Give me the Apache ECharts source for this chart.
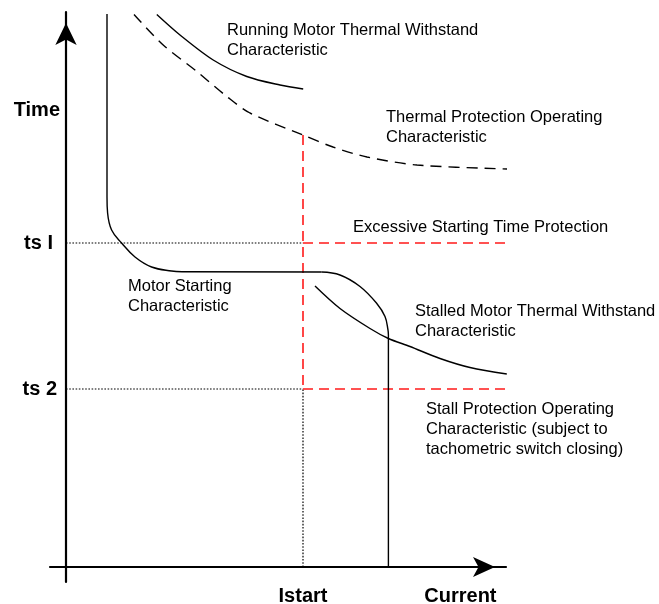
<!DOCTYPE html>
<html>
<head>
<meta charset="utf-8">
<script src="https://cdn.jsdelivr.net/npm/echarts@6/dist/echarts.min.js"></script>
<style>
html,body{margin:0;padding:0;background:#fff;}
#chart{width:659px;height:604px;}
</style>
</head>
<body>
<div id="chart"></div>
<script>
// Data (x = current, y = time; arbitrary units)
var istart = 59.25;
var ts1 = 64.8;
var ts2 = 35.6;
var protEnd = 110.25;
var thermalStartRed = 86.4;

var yTickValues = [91.4, ts1, ts2];
var yTickLabels = ['Time', 'ts I', 'ts 2'];
var xTickValues = [istart, 98.6];
var xTickLabels = ['Istart', 'Current'];

// Motor starting characteristic, in pieces: vertical, knee, flat, knee, vertical
var motorStartTop = [[10.25, 110.6], [10.25, 74]];
var motorStartKnee1 = [[10.25, 74], [10.4, 70.8], [11.4, 67.4], [13.9, 64.8],
  [17.25, 62], [21.4, 60], [26.4, 59.2], [29, 59.06]];
var motorStartFlat = [[29, 59.06], [63.9, 59]];
var motorStartKnee2 = [[63.9, 59], [68.5, 58.4], [73.5, 56.1], [77.7, 52.7],
  [79.75, 50.1], [80.5, 47.4], [80.6, 46.4]];
var motorStartBottom = [[80.6, 46.4], [80.6, 0]];

var runningThermal = [
  [22.7, 110.5], [28.5, 106.4], [36.8, 101.4], [45.2, 98.1], [53.5, 96.4], [59.3, 95.6]
];
var thermalProtection = [
  [17, 110.5], [24.3, 104.4], [32.7, 99.1], [40.2, 94.1], [46, 90.8],
  [59.25, 86.4], [66.75, 84], [75.25, 82], [87.75, 80.4], [110.25, 79.6]
];
var stalledThermal = [
  [62.25, 56.2], [68.5, 51.7], [76, 47.7], [80.6, 45.7], [86, 44.1],
  [93.5, 41.7], [101, 39.9], [110.2, 38.6]
];

var annotations = [
  {lines: ['Running Motor Thermal Withstand', 'Characteristic'], x: 227, y: 32},
  {lines: ['Thermal Protection Operating', 'Characteristic'], x: 386, y: 119},
  {lines: ['Excessive Starting Time Protection'], x: 353, y: 229},
  {lines: ['Motor Starting', 'Characteristic'], x: 128, y: 288},
  {lines: ['Stalled Motor Thermal Withstand', 'Characteristic'], x: 415, y: 313},
  {lines: ['Stall Protection Operating', 'Characteristic (subject to', 'tachometric switch closing)'], x: 426, y: 411}
];

var FONT = "'Liberation Sans', Arial, Helvetica, sans-serif";
var chart = echarts.init(document.getElementById('chart'), null, {renderer: 'canvas'});

var graphics = [];
annotations.forEach(function (a) {
  a.lines.forEach(function (t, i) {
    graphics.push({
      type: 'text', left: a.x, top: a.y + i * 20 - 10,
      style: {text: t, font: '16.5px ' + FONT, fill: '#000', textVerticalAlign: 'top'}
    });
  });
});

function lineSeries(data, style, smooth) {
  return {
    type: 'line', data: data, symbol: 'none', smooth: smooth || false,
    clip: false, silent: true, animation: false,
    lineStyle: style
  };
}

var red = {color: '#ff1a1a', width: 1.6, type: [10, 6]};
var dotted = {color: '#000', width: 1.2, type: [1.6, 1.6]};
var solid = {color: '#000', width: 1.4};
var labelStyle = {fontFamily: FONT, fontWeight: 'bold', fontSize: 20, color: '#000'};

var option = {
  animation: false,
  backgroundColor: '#fff',
  grid: {left: 50, top: 12, width: 456, height: 570, containLabel: false, outerBoundsMode: 'none'},
  xAxis: {
    type: 'value', min: -4, max: 110,
    splitLine: {show: false},
    axisLine: {onZero: true, lineStyle: {color: '#000', width: 2.2}, symbol: ['none', 'arrow'], symbolSize: [15, 22], symbolOffset: [0, -11]},
    axisTick: {show: false},
    axisLabel: Object.assign({
      customValues: xTickValues, margin: 4, hideOverlap: false,
      formatter: function (v) { var i = xTickValues.indexOf(v); return i >= 0 ? xTickLabels[i] : ''; }
    }, labelStyle)
  },
  yAxis: {
    type: 'value', min: -3, max: 111,
    splitLine: {show: false},
    axisLine: {onZero: true, lineStyle: {color: '#000', width: 2.2}, symbol: ['none', 'arrow'], symbolSize: [16, 22], symbolOffset: [0, -11]},
    axisTick: {show: false},
    axisLabel: Object.assign({
      customValues: yTickValues, margin: -10, hideOverlap: false,
      formatter: function (v) {
        var i = yTickValues.indexOf(v);
        return i >= 0 ? '{l' + i + '|' + yTickLabels[i] + '}' : '';
      },
      rich: {
        l0: Object.assign({}, labelStyle),
        l1: Object.assign({padding: [0, 7, 0, 0]}, labelStyle),
        l2: Object.assign({padding: [0, 3, 0, 0]}, labelStyle)
      }
    }, labelStyle)
  },
  graphic: graphics,
  series: [
    lineSeries([[0, ts1], [istart, ts1]], dotted),
    lineSeries([[0, ts2], [istart, ts2]], dotted),
    lineSeries([[istart, 0], [istart, ts2]], dotted),
    lineSeries([[istart, thermalStartRed], [istart, ts2]], red),
    lineSeries([[istart, ts1], [protEnd, ts1]], red),
    lineSeries([[istart, ts2], [protEnd, ts2]], red),
    lineSeries(thermalProtection, {color: '#000', width: 1.4, type: [11, 7]}, 0.3),
    lineSeries(runningThermal, solid, 0.3),
    lineSeries(stalledThermal, solid, 0.3),
    lineSeries(motorStartTop, solid),
    lineSeries(motorStartKnee1, solid, 0.4),
    lineSeries(motorStartFlat, solid),
    lineSeries(motorStartKnee2, solid, 0.4),
    lineSeries(motorStartBottom, solid)
  ]
};
chart.setOption(option);
</script>
</body>
</html>
